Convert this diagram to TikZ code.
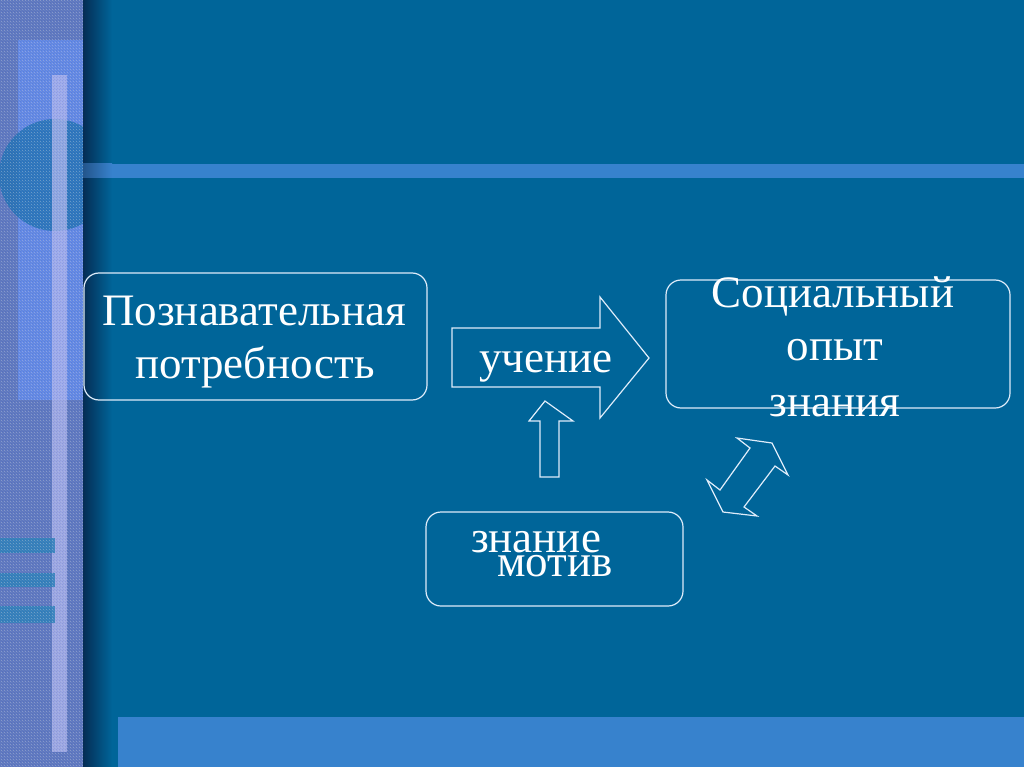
\documentclass[tikz,border=0pt]{standalone}
\usepackage{fontspec}
\setmainfont{Liberation Serif}
\usetikzlibrary{patterns}
\definecolor{mainbg}{RGB}{0,101,153}
\definecolor{barblue}{RGB}{55,130,205}
\definecolor{stripbase}{RGB}{95,120,195}
\definecolor{lavender}{RGB}{100,140,240}
\definecolor{circblue}{RGB}{35,115,185}
\definecolor{vbar}{RGB}{180,185,245}
\definecolor{tealbar}{RGB}{45,130,190}
\definecolor{edge}{RGB}{222,236,250}
\definecolor{shadowc}{RGB}{5,45,85}
\definecolor{barshadow}{RGB}{35,85,140}
\tikzset{
  box/.style={draw=edge, line width=1.2pt, rounded corners=15pt, inner sep=0pt},
  blockarrow/.style={draw=edge, line width=1.2pt, line join=miter},
  txt/.style={text=white, inner sep=0pt, anchor=base, font=\fontsize{45}{53}\selectfont},
}
\begin{document}
\begin{tikzpicture}[x=1pt,y=-1pt]
\useasboundingbox (0,0) rectangle (1024,767);
% background
\fill[mainbg] (0,0) rectangle (1024,767);
% left textured strip
\fill[stripbase] (0,0) rectangle (83,767);
\fill[lavender, opacity=0.85] (18,40) rectangle (83,400);
\begin{scope}
  \clip (0,0) rectangle (83,767);
  \fill[circblue, opacity=0.85] (55,175) circle (56);
\end{scope}
\fill[vbar, opacity=0.75] (52,75) rectangle (67,752);
\fill[tealbar, opacity=0.85] (0,538) rectangle (55,553);
\fill[tealbar, opacity=0.85] (0,573) rectangle (55,587);
\fill[tealbar, opacity=0.85] (0,606) rectangle (55,623);
\fill[pattern=crosshatch dots, pattern color=white, opacity=0.45] (0,0) rectangle (83,767);
\fill[pattern=north east lines, pattern color=shadowc, opacity=0.15] (0,0) rectangle (83,767);
% shadow next to the strip
\shade[left color=shadowc, right color=mainbg] (83,0) rectangle (112,767);
% bars
\shade[left color=barshadow, right color=barblue] (83,164) rectangle (112,178);
\fill[barblue] (112,164) rectangle (1024,178);
\fill[barblue] (118,717) rectangle (1024,767);
% boxes
\node[box, minimum width=343pt, minimum height=127pt] (b1) at (255.5,336.5) {};
\node[box, minimum width=344pt, minimum height=128pt] (b2) at (838,344) {};
\node[box, minimum width=257pt, minimum height=94pt] (b3) at (554.5,559) {};
% big right arrow
\draw[blockarrow] (452,328) -- (600,328) -- (600,297) -- (649,358) -- (600,418) -- (600,387) -- (452,387) -- cycle;
% up arrow
\draw[blockarrow] (545,401) -- (573,421) -- (559,421) -- (559,477) -- (540,477) -- (540,421) -- (529,421) -- cycle;
% double arrow
\draw[blockarrow] (737,438) -- (772,443) -- (788,475) -- (775,466) -- (744,507) -- (757,516) -- (723,512) -- (707,480) -- (720,490) -- (750,448) -- cycle;
% texts
\node[txt] (t1a) at (254,325) {Познавательная};
\node[txt] (t1b) at (255,378) {потребность};
\node[txt] (ta) at (546,372) {учение};
\node[txt] (t2a) at (833,307) {Социальный};
\node[txt] (t2b) at (835,360) {опыт};
\node[txt] (t2c) at (835,416) {знания};
\node[txt] (t3a) at (536,552) {знание};
\node[txt] (t3b) at (555,576) {мотив};
\end{tikzpicture}
\end{document}
